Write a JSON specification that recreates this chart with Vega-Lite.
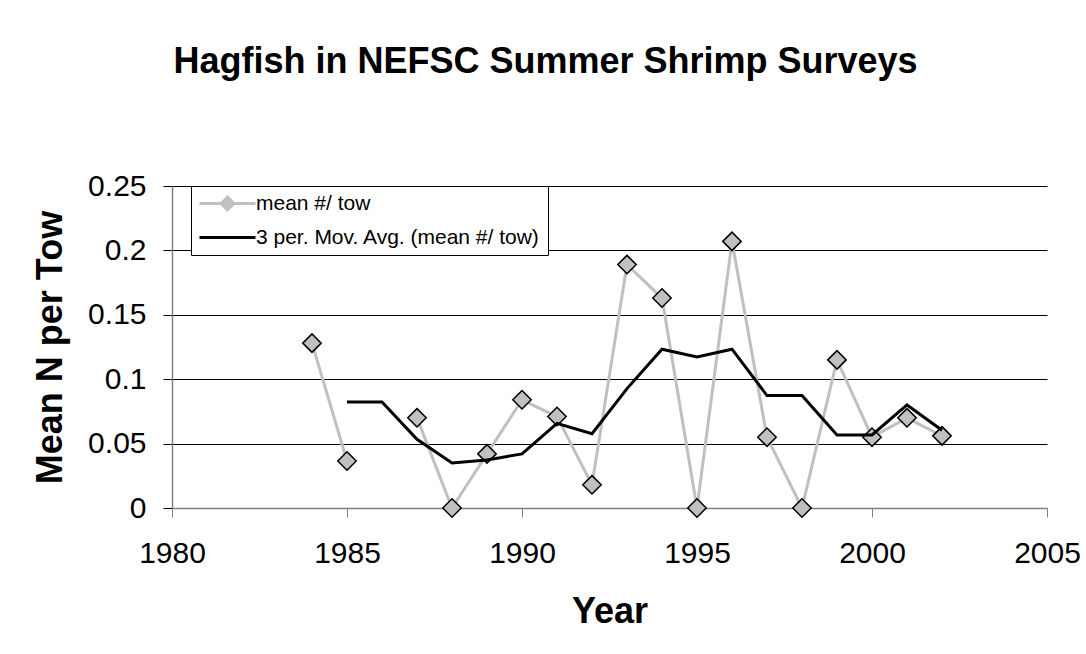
{
  "$schema": "https://vega.github.io/schema/vega-lite/v6.json",
  "width": 875,
  "height": 322,
  "autosize": {"type": "none"},
  "padding": {"left": 172, "top": 186, "right": 39, "bottom": 146},
  "background": "white",
  "title": {
    "text": "Hagfish in NEFSC Summer Shrimp Surveys",
    "font": "Liberation Sans",
    "fontSize": 36,
    "fontWeight": "bold",
    "color": "#000000",
    "anchor": "middle",
    "frame": "group",
    "baseline": "alphabetic",
    "offset": 62,
    "dx": -64
  },
  "datasets": {
    "tow": [
      {"year": 1984, "value": 0.128, "series": "mean #/ tow", "seg": 1},
      {"year": 1985, "value": 0.0365, "series": "mean #/ tow", "seg": 1},
      {"year": 1987, "value": 0.070, "series": "mean #/ tow", "seg": 2},
      {"year": 1988, "value": 0.0, "series": "mean #/ tow", "seg": 2},
      {"year": 1989, "value": 0.042, "series": "mean #/ tow", "seg": 2},
      {"year": 1990, "value": 0.084, "series": "mean #/ tow", "seg": 2},
      {"year": 1991, "value": 0.071, "series": "mean #/ tow", "seg": 2},
      {"year": 1992, "value": 0.018, "series": "mean #/ tow", "seg": 2},
      {"year": 1993, "value": 0.189, "series": "mean #/ tow", "seg": 2},
      {"year": 1994, "value": 0.163, "series": "mean #/ tow", "seg": 2},
      {"year": 1995, "value": 0.0, "series": "mean #/ tow", "seg": 2},
      {"year": 1996, "value": 0.207, "series": "mean #/ tow", "seg": 2},
      {"year": 1997, "value": 0.055, "series": "mean #/ tow", "seg": 2},
      {"year": 1998, "value": 0.0, "series": "mean #/ tow", "seg": 2},
      {"year": 1999, "value": 0.115, "series": "mean #/ tow", "seg": 2},
      {"year": 2000, "value": 0.055, "series": "mean #/ tow", "seg": 2},
      {"year": 2001, "value": 0.070, "series": "mean #/ tow", "seg": 2},
      {"year": 2002, "value": 0.056, "series": "mean #/ tow", "seg": 2}
    ],
    "ma": [
      {"year": 1985, "value": 0.0823, "series": "3 per. Mov. Avg. (mean #/ tow)"},
      {"year": 1986, "value": 0.0823, "series": "3 per. Mov. Avg. (mean #/ tow)"},
      {"year": 1987, "value": 0.0533, "series": "3 per. Mov. Avg. (mean #/ tow)"},
      {"year": 1988, "value": 0.035, "series": "3 per. Mov. Avg. (mean #/ tow)"},
      {"year": 1989, "value": 0.0373, "series": "3 per. Mov. Avg. (mean #/ tow)"},
      {"year": 1990, "value": 0.042, "series": "3 per. Mov. Avg. (mean #/ tow)"},
      {"year": 1991, "value": 0.0657, "series": "3 per. Mov. Avg. (mean #/ tow)"},
      {"year": 1992, "value": 0.0577, "series": "3 per. Mov. Avg. (mean #/ tow)"},
      {"year": 1993, "value": 0.0927, "series": "3 per. Mov. Avg. (mean #/ tow)"},
      {"year": 1994, "value": 0.1233, "series": "3 per. Mov. Avg. (mean #/ tow)"},
      {"year": 1995, "value": 0.1173, "series": "3 per. Mov. Avg. (mean #/ tow)"},
      {"year": 1996, "value": 0.1233, "series": "3 per. Mov. Avg. (mean #/ tow)"},
      {"year": 1997, "value": 0.0873, "series": "3 per. Mov. Avg. (mean #/ tow)"},
      {"year": 1998, "value": 0.0873, "series": "3 per. Mov. Avg. (mean #/ tow)"},
      {"year": 1999, "value": 0.0567, "series": "3 per. Mov. Avg. (mean #/ tow)"},
      {"year": 2000, "value": 0.0567, "series": "3 per. Mov. Avg. (mean #/ tow)"},
      {"year": 2001, "value": 0.080, "series": "3 per. Mov. Avg. (mean #/ tow)"},
      {"year": 2002, "value": 0.0603, "series": "3 per. Mov. Avg. (mean #/ tow)"}
    ]
  },
  "encoding": {
    "x": {
      "field": "year",
      "type": "quantitative",
      "scale": {"domain": [1980, 2005], "nice": false, "zero": false},
      "axis": {
        "values": [1980, 1985, 1990, 1995, 2000, 2005],
        "format": "d",
        "title": "Year",
        "grid": false,
        "domainColor": "#808080",
        "domainWidth": 1.5,
        "tickColor": "#808080",
        "tickSize": 9,
        "labelPadding": 21,
        "labelFont": "Liberation Sans",
        "labelFontSize": 30,
        "labelColor": "#000000",
        "labelFlush": false,
        "labelOverlap": false,
        "titleFont": "Liberation Sans",
        "titleFontSize": 36,
        "titleFontWeight": "bold",
        "titleColor": "#000000",
        "titleX": 437.5,
        "titleY": 114,
        "titleBaseline": "alphabetic",
        "titleAlign": "center"
      }
    },
    "y": {
      "field": "value",
      "type": "quantitative",
      "scale": {"domain": [0, 0.25], "nice": false},
      "axis": {
        "values": [0, 0.05, 0.1, 0.15, 0.2, 0.25],
        "format": "~g",
        "title": "Mean N per Tow",
        "grid": true,
        "gridColor": {"condition": {"test": "datum.value === 0", "value": "#808080"}, "value": "#000000"},
        "gridWidth": 1,
        "gridOpacity": 1,
        "domainColor": "#808080",
        "domainWidth": 1.5,
        "tickColor": "#000000",
        "tickSize": 9,
        "labelPadding": 17,
        "labelFont": "Liberation Sans",
        "labelFontSize": 30,
        "labelColor": "#000000",
        "labelFlush": false,
        "labelOverlap": false,
        "titleFont": "Liberation Sans",
        "titleFontSize": 36,
        "titleFontWeight": "bold",
        "titleColor": "#000000",
        "titleAngle": -90,
        "titleX": -111,
        "titleY": 161,
        "titleBaseline": "alphabetic",
        "titleAlign": "center"
      }
    }
  },
  "layer": [
    {
      "data": {"name": "tow"},
      "mark": {"type": "line", "strokeWidth": 3},
      "encoding": {
        "color": {
          "field": "series",
          "type": "nominal",
          "scale": {
            "domain": ["mean #/ tow", "3 per. Mov. Avg. (mean #/ tow)"],
            "range": ["#c0c0c0", "#000000"]
          },
          "legend": {
            "orient": "none",
            "legendX": 19,
            "legendY": 0,
            "direction": "vertical",
            "title": null,
            "symbolType": "M-4,0H4",
            "symbolSize": 196,
            "symbolStrokeWidth": 3,
            "symbolOffset": 19,
            "labelFont": "Liberation Sans",
            "labelFontSize": 21,
            "labelColor": "#000000",
            "labelLimit": 0,
            "labelOffset": 18,
            "rowPadding": 10,
            "padding": 7,
            "strokeColor": "#000000",
            "fillColor": "#ffffff",
            "cornerRadius": 0,
            "encode": {
              "symbols": {
                "update": {
                  "shape": {"signal": "datum.value === 'mean #/ tow' ? 'M-4,0H-1M1,0H4M-0.9,0L0,-0.9L0.9,0L0,0.9Z' : 'M-4,0H4'"},
                  "fill": {"signal": "datum.value === 'mean #/ tow' ? '#c0c0c0' : 'transparent'"},
                  "fillOpacity": {"value": 1}
                }
              }
            }
          }
        },
        "detail": {"field": "seg", "type": "nominal"}
      }
    },
    {
      "data": {"name": "tow"},
      "mark": {"type": "point", "shape": "diamond", "filled": true, "fill": "#c0c0c0", "stroke": "#000000", "strokeWidth": 1.5, "size": 340, "opacity": 1},
      "encoding": {}
    },
    {
      "data": {"name": "ma"},
      "mark": {"type": "line", "strokeWidth": 3},
      "encoding": {
        "color": {"field": "series", "type": "nominal"}
      }
    }
  ],
  "config": {
    "view": {"stroke": null},
    "font": "Liberation Sans"
  }
}
